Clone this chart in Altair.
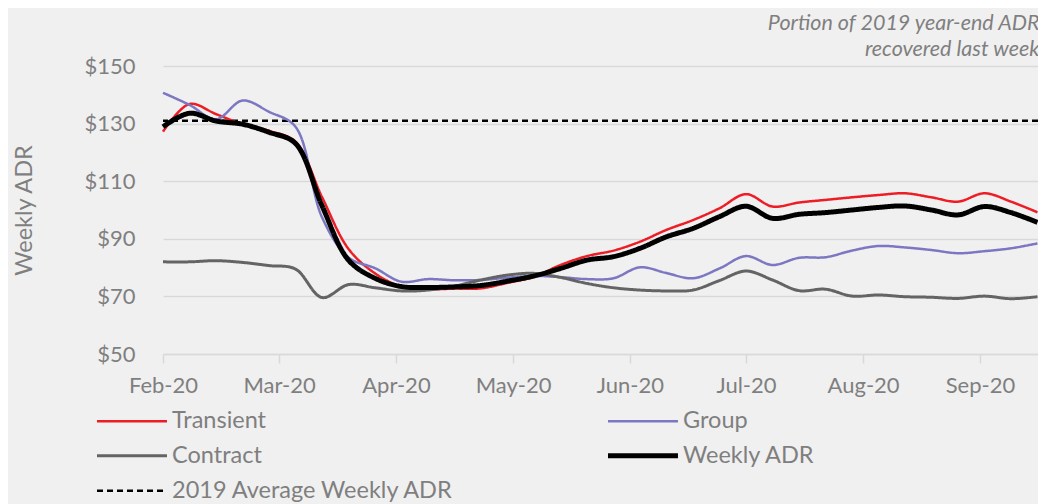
import altair as alt
import pandas as pd

series_names = ["Transient", "Group", "Contract", "Weekly ADR", "2019 Average Weekly ADR"]
series_colors = ["#ee1c25", "#7b77c2", "#646464", "#000000", "#000000"]
series_widths = [2.5, 2.5, 3, 5, 2.5]
series_dashes = [[1, 0], [1, 0], [1, 0], [1, 0], [6, 4]]

week_index = list(range(34))
transient = [127.2, 136.8, 133.3, 129.8, 127.5, 123.7, 104.5, 86.5, 78.0, 73.4, 72.5, 72.7,
             72.8, 74.7, 76.8, 80.9, 84.0, 85.9, 89.0, 93.1, 96.5, 100.6, 105.5, 101.2,
             102.6, 103.5, 104.4, 105.2, 105.8, 104.4, 102.9, 105.8, 102.9, 99.2]
group = [140.7, 136.5, 131.5, 138.0, 134.1, 128.9, 97.5, 83.5, 79.8, 75.1, 76.0, 75.6,
         75.7, 76.5, 77.1, 76.7, 76.0, 76.3, 80.1, 78.1, 76.3, 79.7, 84.0, 80.9,
         83.4, 83.6, 85.9, 87.5, 87.0, 86.1, 85.0, 85.7, 86.7, 88.4]
contract = [82.0, 82.0, 82.4, 81.8, 80.7, 79.5, 69.6, 74.1, 73.0, 71.9, 72.2, 73.6,
            75.7, 77.4, 78.0, 76.6, 74.5, 73.0, 72.2, 71.9, 72.2, 75.5, 78.8, 75.7,
            72.0, 72.5, 70.1, 70.5, 69.9, 69.7, 69.3, 70.1, 69.2, 69.9]
weekly_adr = [128.9, 133.6, 130.9, 129.8, 127.0, 123.1, 101.5, 82.6, 76.3, 73.4, 73.1, 73.3,
              73.8, 75.3, 77.1, 79.7, 82.6, 83.8, 86.7, 90.7, 93.6, 97.7, 101.3, 97.1,
              98.5, 99.1, 100.0, 100.9, 101.4, 100.0, 98.3, 101.2, 99.1, 95.7]
avg_2019 = [131.0]

month_ticks = [0, 4.38, 8.79, 13.21, 17.62, 22.0, 26.42, 30.83]
month_labels = ["Feb-20", "Mar-20", "Apr-20", "May-20", "Jun-20", "Jul-20", "Aug-20", "Sep-20"]
y_ticks = [50, 70, 90, 110, 130, 150]

rows = []
for name, vals in [("Transient", transient), ("Group", group),
                   ("Contract", contract), ("Weekly ADR", weekly_adr)]:
    for w, v in zip(week_index, vals):
        rows.append({"week": w, "value": v, "series": name})
lines_df = pd.DataFrame(rows)
avg_df = pd.DataFrame({"value": avg_2019, "series": ["2019 Average Weekly ADR"]})

FONT = "Lato"
GRAY = "#7f7f7f"

color = alt.Color("series:N", title=None,
                  scale=alt.Scale(domain=series_names, range=series_colors))
width_enc = alt.StrokeWidth("series:N", title=None,
                            scale=alt.Scale(type="ordinal", domain=series_names,
                                            range=series_widths))
dash_enc = alt.StrokeDash("series:N", title=None,
                          scale=alt.Scale(domain=series_names, range=series_dashes))

label_expr = f"{month_labels}[indexof({month_ticks}, datum.value)]"

x_enc = alt.X("week:Q", title=None,
              scale=alt.Scale(domain=[0, 33.02], nice=False, zero=False),
              axis=alt.Axis(values=month_ticks, labelExpr=label_expr, grid=False,
                            domainColor="#d9d9d9", domainWidth=1.5,
                            tickColor="#d9d9d9", tickWidth=1.5, tickSize=9,
                            labelPadding=12, labelFontSize=22, labelColor=GRAY,
                            labelFont=FONT, labelFlush=False))
y_enc = alt.Y("value:Q", title="Weekly ADR",
              scale=alt.Scale(domain=[50, 150], nice=False, zero=False),
              axis=alt.Axis(values=y_ticks, labelExpr="'$' + datum.value",
                            domain=False, ticks=False, gridColor="#d9d9d9", gridWidth=1.5,
                            labelPadding=28, labelFontSize=22, labelColor=GRAY,
                            labelFont=FONT, titleFont=FONT, titleFontSize=23.5,
                            titleFontWeight="normal", titleColor=GRAY, titlePadding=47))

lines = alt.Chart(lines_df).mark_line(interpolate="catmull-rom").encode(
    x=x_enc, y=y_enc, color=color, strokeWidth=width_enc, strokeDash=dash_enc,
    order=alt.Order("week:Q")
)
avg_rule = alt.Chart(avg_df).mark_rule().encode(
    y=alt.Y("value:Q"), color=color, strokeWidth=width_enc, strokeDash=dash_enc
)

chart = alt.layer(avg_rule, lines).properties(
    width=875, height=288,
    title=alt.TitleParams(
        text=["Portion of 2019 year-end ADR", "recovered last week"],
        anchor="end", fontStyle="italic", fontWeight="normal", fontSize=21.5,
        color=GRAY, font=FONT, lineHeight=26, offset=-5, dx=-8),
    autosize=alt.AutoSizeParams(type="none"),
    padding={"left": 155, "top": 58, "right": 0, "bottom": 150},
    background="#f0f0f0",
).configure_view(stroke=None).configure_legend(
    orient="none", legendX=-69, legendY=343, columns=2, columnPadding=143,
    direction="horizontal", rowPadding=10, symbolType="M-1,0H7", symbolSize=306,
    labelFontSize=23.5, labelLimit=400,
    labelColor=GRAY, labelFont=FONT, labelOffset=54.5, symbolOffset=0
)

chart.save("out.html", embed_options={"renderer": "svg", "actions": False})
